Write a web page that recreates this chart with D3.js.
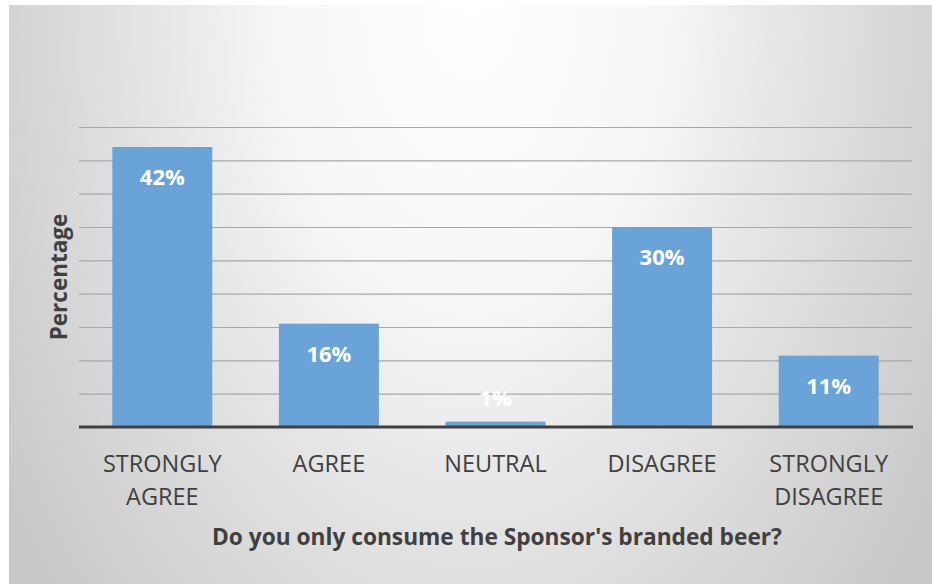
<!DOCTYPE html>
<html>
<head>
<meta charset="utf-8">
<script src="https://cdn.jsdelivr.net/npm/d3@7"></script>
<style>
  html, body { margin: 0; padding: 0; background: #fff; }
</style>
</head>
<body>
<div id="chart"></div>
<script>
// values
var categories = ["STRONGLY AGREE", "AGREE", "NEUTRAL", "DISAGREE", "STRONGLY DISAGREE"];
var values = [42, 15.5, 0.8, 30, 10.7];
var valueLabels = ["42%", "16%", "1%", "30%", "11%"];
var gridTicks = [5, 10, 15, 20, 25, 30, 35, 40, 45];

var width = 932, height = 584;
var plot = { left: 79, right: 912, top: 127, bottom: 427 };
var textColor = "#404040", barColor = "#6aa3d8";
var font = "'Open Sans', sans-serif";

var svg = d3.select("#chart").append("svg")
  .attr("width", width)
  .attr("height", height);

// grey radial background like the slide
var defs = svg.append("defs");
var grad = defs.append("radialGradient").attr("id", "bg")
  .attr("gradientUnits", "userSpaceOnUse")
  .attr("cx", 470).attr("cy", 0).attr("r", 560)
  .attr("gradientTransform", "translate(470,0) scale(1,1.6) translate(-470,0)");
[[0, "#ffffff"], [0.35, "#f6f6f6"], [0.6, "#e3e3e3"], [0.85, "#d2d2d2"], [1, "#c8c8c8"]]
  .forEach(function(s){
    grad.append("stop").attr("offset", s[0]).attr("stop-color", s[1]);
  });

svg.append("rect")
  .attr("x", 9).attr("y", 5)
  .attr("width", width - 9).attr("height", height - 5)
  .attr("fill", "url(#bg)");

var x = d3.scaleBand()
  .domain(categories)
  .range([plot.left, plot.right])
  .paddingInner(0.4)
  .paddingOuter(0.2);

var y = d3.scaleLinear()
  .domain([0, 45])
  .range([plot.bottom, plot.top]);

// gridlines
svg.append("g").attr("class", "grid")
  .attr("transform", "translate(" + plot.left + ",0)")
  .call(d3.axisLeft(y).tickValues(gridTicks).tickSize(-(plot.right - plot.left)).tickFormat(""))
  .call(function(g){
    g.select(".domain").remove();
    g.selectAll(".tick line").attr("stroke", "#a8a8a8").attr("stroke-width", 1.2);
  });

// bars
svg.append("g").selectAll("rect")
  .data(values)
  .enter().append("rect")
    .attr("x", function(d, i){ return x(categories[i]); })
    .attr("y", function(d){ return y(d); })
    .attr("width", x.bandwidth())
    .attr("height", function(d){ return y(0) - y(d); })
    .attr("fill", barColor);

// data labels, inside end (pushed up when the bar is too short)
svg.append("g").selectAll("text")
  .data(values)
  .enter().append("text")
    .attr("x", function(d, i){ return x(categories[i]) + x.bandwidth() / 2; })
    .attr("y", function(d){ return Math.min(y(d) + 38, y(0) - 21); })
    .attr("text-anchor", "middle")
    .attr("font-family", font)
    .attr("font-weight", "bold")
    .attr("font-size", 22)
    .attr("fill", "#fff")
    .text(function(d, i){ return valueLabels[i]; });

// baseline
svg.append("line")
  .attr("x1", plot.left).attr("x2", plot.right + 1)
  .attr("y1", y(0)).attr("y2", y(0))
  .attr("stroke", textColor)
  .attr("stroke-width", 3);

// category axis, wrapped onto two lines
svg.append("g").attr("class", "xaxis")
  .attr("transform", "translate(0," + y(0) + ")")
  .call(d3.axisBottom(x).tickSize(0))
  .call(function(g){
    g.select(".domain").remove();
    g.selectAll(".tick text").each(function(d){
      var t = d3.select(this).text(null)
        .attr("y", 45)
        .attr("dy", null)
        .attr("fill", textColor)
        .attr("font-family", font)
        .attr("font-size", 23.5);
      d.split(" ").forEach(function(w, i){
        t.append("tspan").attr("x", 0).attr("dy", i ? 33 : 0).text(w);
      });
    });
  });

// axis titles
svg.append("text")
  .attr("x", 497)
  .attr("y", 545)
  .attr("text-anchor", "middle")
  .attr("font-family", font)
  .attr("font-weight", "bold")
  .attr("font-size", 22.7)
  .attr("fill", textColor)
  .text("Do you only consume the Sponsor's branded beer?");

svg.append("text")
  .attr("transform", "translate(67,277) rotate(-90)")
  .attr("text-anchor", "middle")
  .attr("font-family", font)
  .attr("font-weight", "bold")
  .attr("font-size", 22.5)
  .attr("fill", textColor)
  .text("Percentage");
</script>
</body>
</html>
